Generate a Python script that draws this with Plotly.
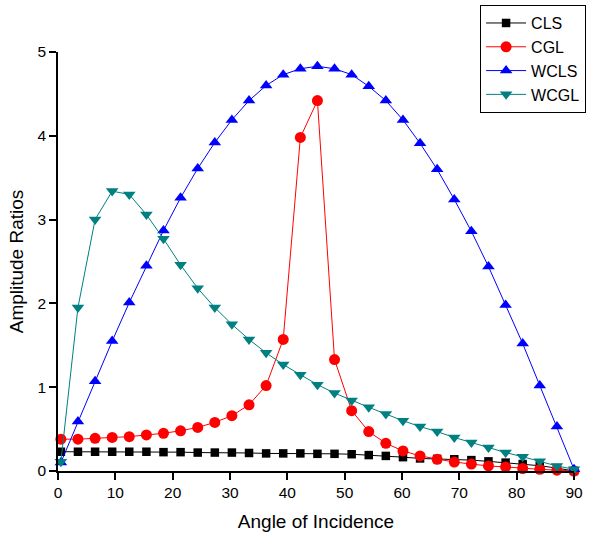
import plotly.graph_objects as go

# Angle of incidence (degrees) at which the ratios were evaluated
angle = [0.5, 3.48, 6.47, 9.45, 12.43, 15.42, 18.4, 21.38, 24.37, 27.35,
         30.33, 33.32, 36.3, 39.28, 42.27, 45.25, 48.23, 51.22, 54.2, 57.18,
         60.17, 63.15, 66.13, 69.12, 72.1, 75.08, 78.07, 81.05, 84.03, 87.02, 90.0]

cls = [0.23, 0.23, 0.23, 0.23, 0.23, 0.23, 0.225, 0.225, 0.22, 0.22,
       0.22, 0.215, 0.21, 0.21, 0.21, 0.205, 0.205, 0.2, 0.19, 0.18,
       0.165, 0.15, 0.145, 0.14, 0.13, 0.115, 0.1, 0.083, 0.063, 0.035, 0.0]

cgl = [0.38, 0.38, 0.39, 0.40, 0.41, 0.43, 0.45, 0.48, 0.52, 0.58,
       0.66, 0.79, 1.02, 1.57, 3.98, 4.42, 1.33, 0.72, 0.47, 0.33,
       0.24, 0.18, 0.14, 0.107, 0.083, 0.06, 0.048, 0.03, 0.02, 0.01, 0.0]

wcls = [0.10, 0.59, 1.07, 1.55, 2.01, 2.45, 2.87, 3.26, 3.61, 3.92,
        4.19, 4.42, 4.60, 4.73, 4.80, 4.83, 4.80, 4.73, 4.59, 4.42,
        4.19, 3.91, 3.60, 3.24, 2.86, 2.44, 1.98, 1.52, 1.02, 0.53, 0.02]

wcgl = [0.11, 1.95, 3.00, 3.34, 3.30, 3.06, 2.77, 2.46, 2.18, 1.95,
        1.75, 1.57, 1.41, 1.27, 1.15, 1.03, 0.93, 0.84, 0.76, 0.68,
        0.60, 0.53, 0.47, 0.40, 0.34, 0.28, 0.22, 0.17, 0.115, 0.06, 0.02]

series = [
    ("CLS", cls, "#000000", "square", 8.5),
    ("CGL", cgl, "#ff0000", "circle", 11),
    ("WCLS", wcls, "#0000ff", "triangle-up", 11),
    ("WCGL", wcgl, "#008080", "triangle-down", 11),
]

FONT = "Liberation Sans, Arial, sans-serif"

fig = go.Figure()
for name, vals, color, symbol, size in series:
    fig.add_trace(go.Scatter(
        x=angle, y=vals, name=name, mode="lines+markers",
        line=dict(color=color, width=1),
        marker=dict(symbol=symbol, size=size, color=color,
                    line=dict(width=0)),
        cliponaxis=False,
    ))

axis_common = dict(
    showline=True, linecolor="black", linewidth=1.5,
    ticks="outside", ticklen=7, tickwidth=1.5, tickcolor="black",
    showgrid=False, zeroline=False, mirror=False, automargin=False,
    tickfont=dict(family=FONT, size=15.5, color="black"),
)

fig.update_layout(
    width=595, height=533,
    margin=dict(l=58, r=21, t=52, b=62, autoexpand=False),
    paper_bgcolor="white", plot_bgcolor="white",
    font=dict(family=FONT, color="black"),
    xaxis=dict(range=[0, 90], dtick=10,
               title=dict(text="Angle of Incidence",
                          font=dict(size=19), standoff=14),
               **axis_common),
    yaxis=dict(range=[0, 5], dtick=1,
               title=dict(text="Amplitude Ratios",
                          font=dict(size=19), standoff=9),
               **axis_common),
    legend=dict(x=0.818, y=1.112, xanchor="left", yanchor="top",
                bordercolor="black", borderwidth=1, bgcolor="white",
                font=dict(size=16, family=FONT),
                tracegroupgap=0, itemwidth=40),
    showlegend=True,
)

fig.write_html("out.html")
